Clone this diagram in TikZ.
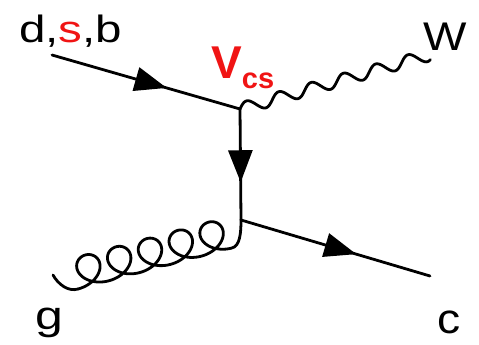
\documentclass[tikz,border=0pt]{standalone}
\usepackage{fontspec}
\setmainfont{Liberation Sans}
\usetikzlibrary{decorations.markings,arrows.meta}
\definecolor{vred}{RGB}{240,20,20}
\tikzset{
  line/.style={line width=2.8pt, line cap=round, line join=round},
  fermion/.style={line, postaction={decorate}, decoration={markings,
    mark=at position #1 with {\arrow{Triangle[length=32pt,width=24pt]}}}},
  lbl/.style={inner sep=0pt, anchor=base west}
}
\begin{document}
\begin{tikzpicture}[x=1pt,y=-1pt]
\useasboundingbox (0,0) rectangle (479,345);
\coordinate (qin) at (52,55);
\coordinate (v1) at (240,109);
\coordinate (v2) at (241,220);
\coordinate (wout) at (429,55);
\coordinate (cout) at (430,276);
\coordinate (gin) at (53,275);
\coordinate (gb0) at (78,289);
\coordinate (gb5) at (232,248);
\draw[fermion=0.61] (qin) -- (v1);
\draw[fermion=0.66] (v1) -- (v2);
\draw[fermion=0.61] (v2) -- (cout);
% W boson from v1 to wout
\begin{scope}[shift={(v1)}, rotate=15.95]
  \draw[line] plot[domain=0:196.6, samples=300, variable=\t]
    (\t, {-6*sin(\t/196.6*2106)});
\end{scope}
% gluon from gin to v2
\draw[line] (gin) .. controls (58,284) and (68,292) .. (gb0);
\begin{scope}[shift={(gb0)}, rotate=14.91]
  \draw[line] plot[domain=0:1, samples=500, variable=\t]
    ({159.4*\t + 19*sin(\t*1800)}, {-15.5*(1-cos(\t*1800))});
\end{scope}
\draw[line] (gb5) .. controls (240,246) and (241,233) .. (v2);
\node[lbl] (dsb) at (19,43) {\scalebox{1.25}[1]{\fontsize{38}{38}\selectfont d,\textcolor{vred}{s},b}};
\node[lbl, text=vred] (vcs) at (211,78) {\fontsize{46}{46}\selectfont\bfseries V\raisebox{-10pt}{\fontsize{29}{29}\selectfont cs}};
\node[lbl] (w) at (423,51) {\scalebox{1.15}[1]{\fontsize{40}{40}\selectfont W}};
\node[lbl] (g) at (35,329) {\scalebox{1.25}[1]{\fontsize{40}{40}\selectfont g}};
\node[lbl] (c) at (437,333) {\scalebox{1.1}[1]{\fontsize{42}{42}\selectfont c}};
\end{tikzpicture}
\end{document}
